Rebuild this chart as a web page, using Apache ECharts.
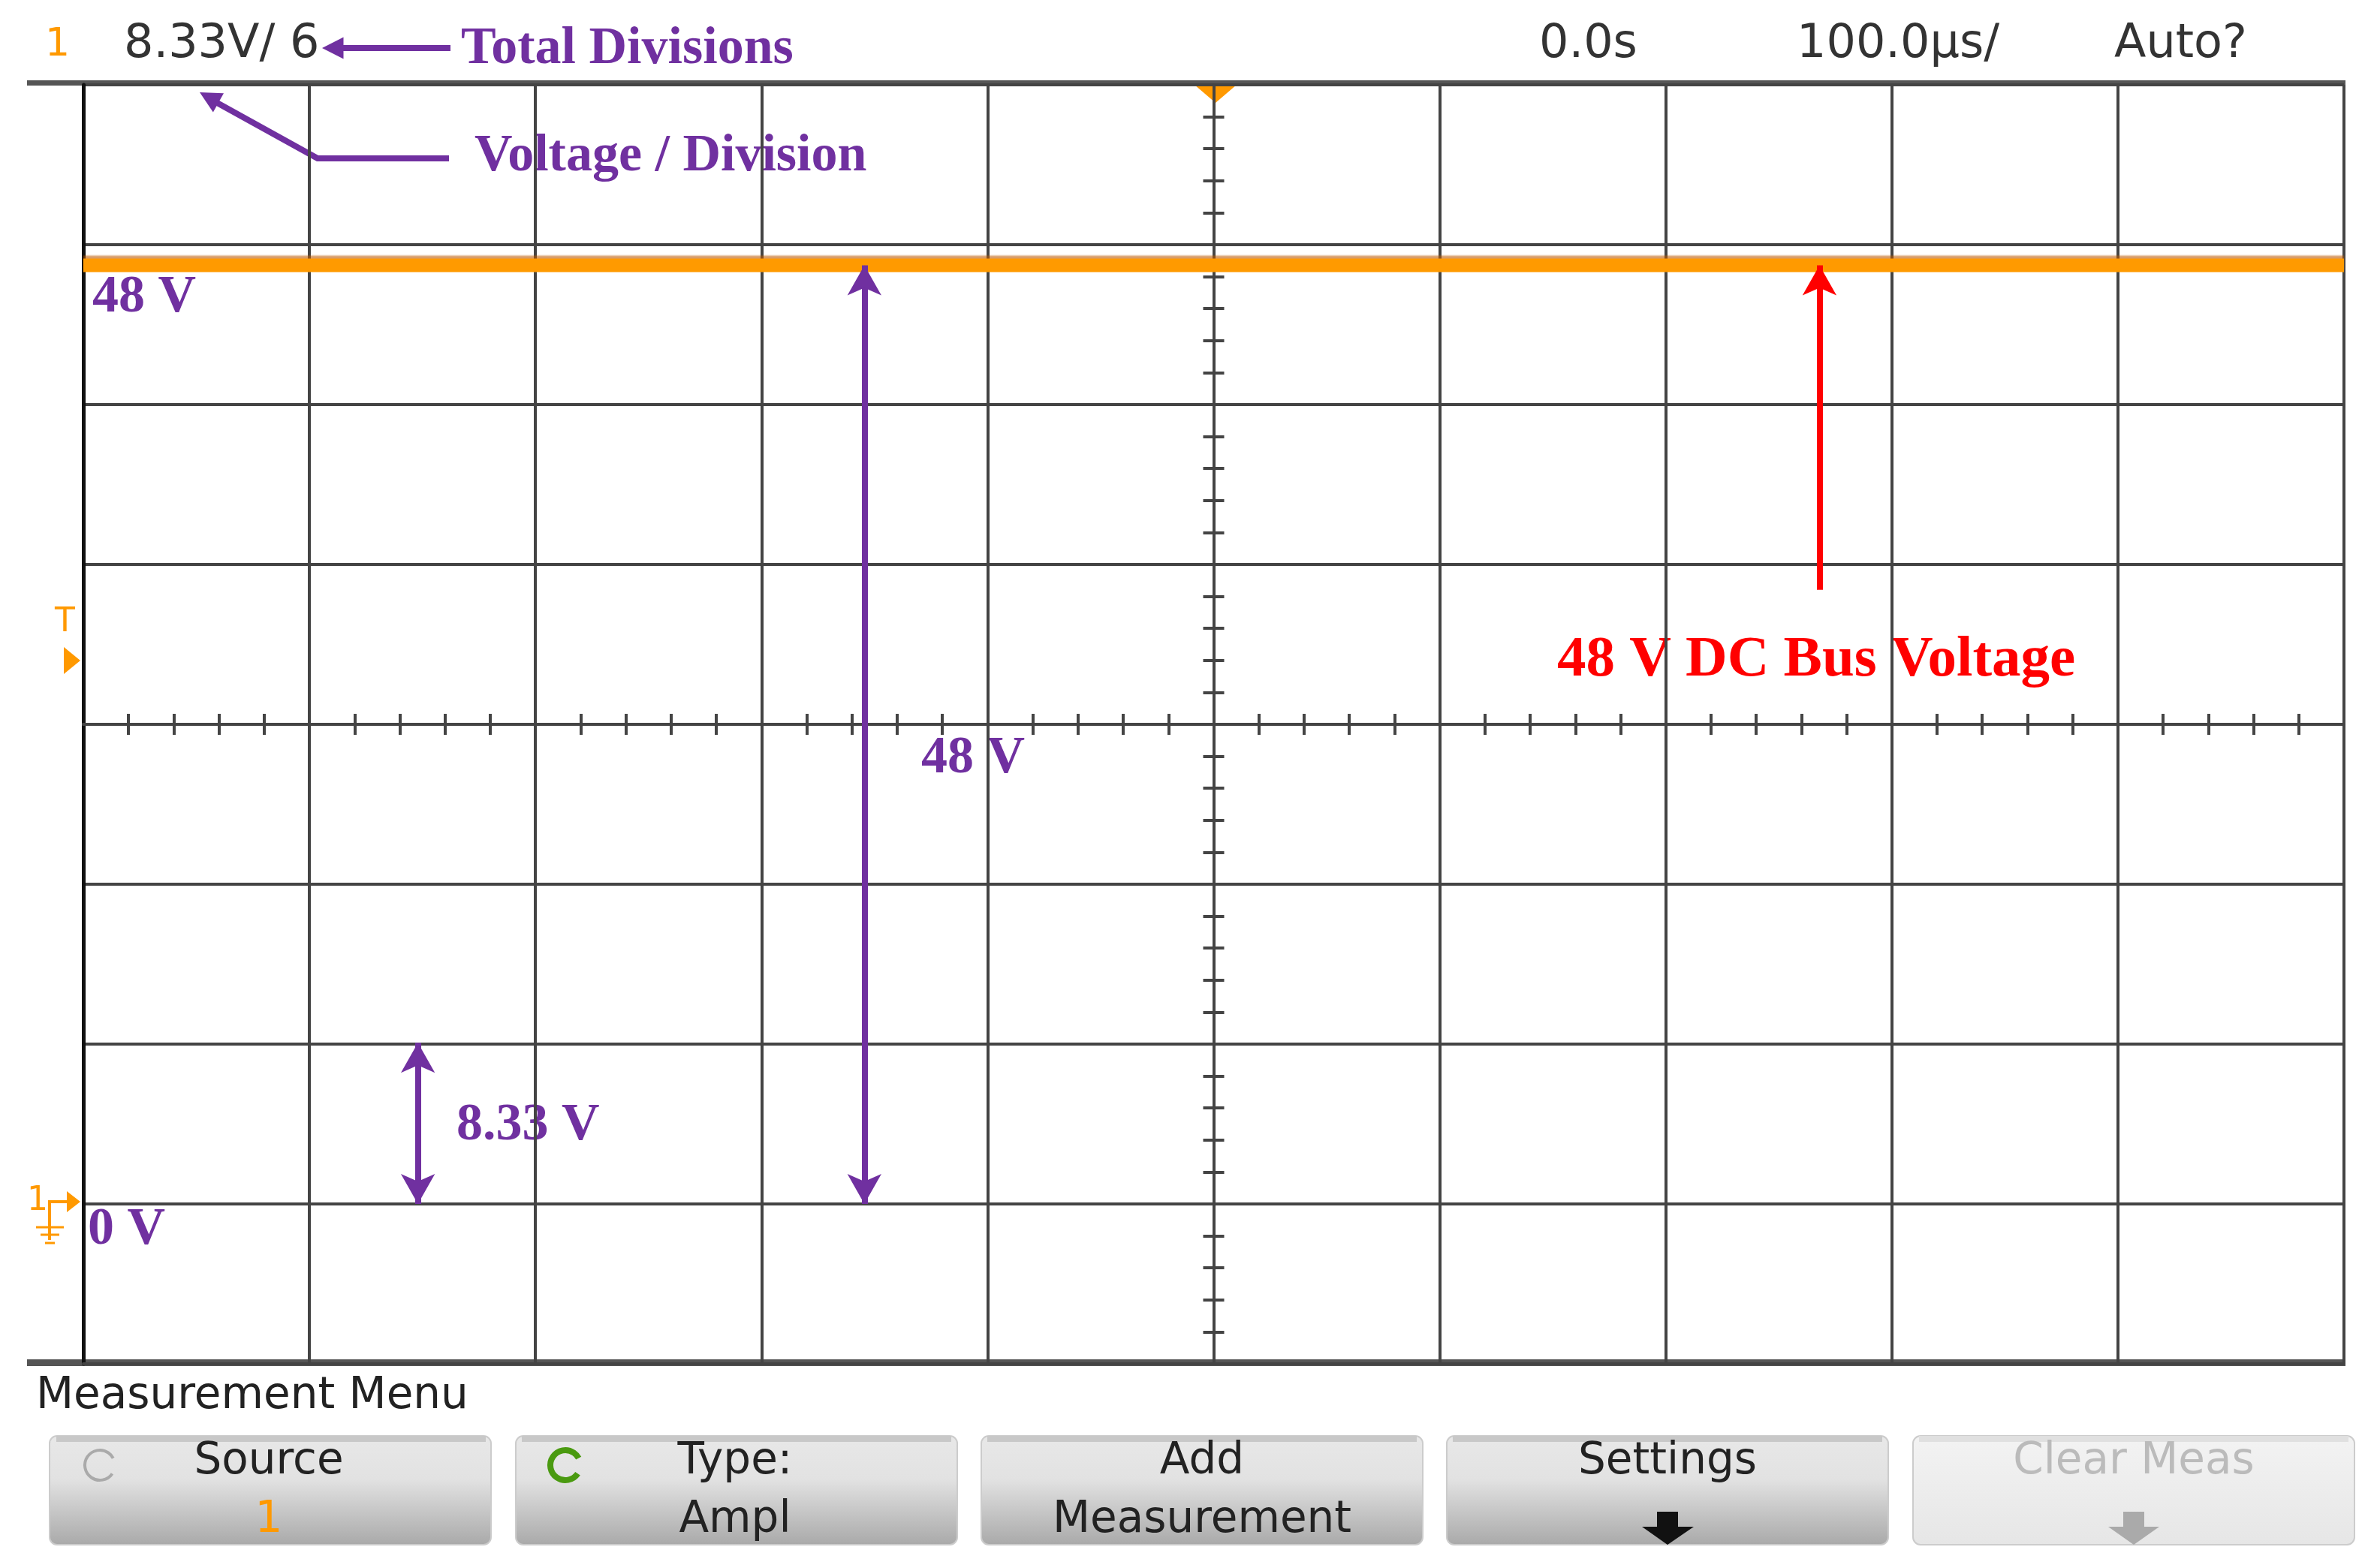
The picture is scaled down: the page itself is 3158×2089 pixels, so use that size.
<!DOCTYPE html>
<html>
<head>
<meta charset="utf-8">
<script src="https://cdn.jsdelivr.net/npm/echarts@6/dist/echarts.min.js"></script>
<style>html,body{margin:0;padding:0;background:#fff}#scope{width:3158px;height:2089px}</style>
</head>
<body>
<div id="scope"></div>
<script>
// data
var timeUs = [-500, -400, -300, -200, -100, 0, 100, 200, 300, 400, 500];
var busVolts = [48.9, 48.9, 48.9, 48.9, 48.9, 48.9, 48.9, 48.9, 48.9, 48.9, 48.9];
var voltsPerDiv = 8.33;
var headerTexts = ['8.33V/ 6', '0.0s', '100.0µs/', 'Auto?'];
var buttonTop = ['Source', 'Type:', 'Add', 'Settings', 'Clear Meas'];
var buttonBottom = ['1', 'Ampl', 'Measurement', '', ''];

var S = 3158 / 1568;
function p(v) { return Math.round(v * S); }
var purple = '#7030a0';
var serif = 'Liberation Serif';
var sans = '"DejaVu Sans", sans-serif';

var traceData = timeUs.map(function (t, i) { return [t, busVolts[i]]; });

function arrowHead(x, y, ang, size, color) {
    var a1 = ang + Math.PI * 0.85, a2 = ang - Math.PI * 0.85;
    return {
        type: 'polygon',
        shape: { points: [[x, y], [x + size * Math.cos(a1), y + size * Math.sin(a1)], [x + size * Math.cos(a2), y + size * Math.sin(a2)]] },
        style: { fill: color }
    };
}
function txt(x, y, s, size, color, font, weight, align) {
    return {
        type: 'text', x: x, y: y,
        style: { text: s, fontSize: size, fill: color, fontFamily: font, fontWeight: weight || 'normal', align: align || 'left', verticalAlign: 'middle' }
    };
}

var graphics = [
    { type: 'rect', shape: { x: p(18), y: p(53), width: p(1533), height: 7 }, style: { fill: '#555' } },
    { type: 'rect', shape: { x: p(18), y: p(899), width: p(1533), height: 9 }, style: { fill: '#555' } },
    // header
    txt(p(30), p(30), '1', p(26), '#f90', sans),
    txt(p(82), p(30), headerTexts[0], p(31), '#333', sans),
    txt(p(1018), p(30), headerTexts[1], p(31), '#333', sans),
    txt(p(1188), p(30), headerTexts[2], p(31), '#333', sans),
    txt(p(1398), p(30), headerTexts[3], p(31), '#333', sans),
    // trigger markers
    { type: 'polygon', shape: { points: [[p(790), p(56)], [p(818), p(56)], [p(804), p(68)]] }, style: { fill: '#f90' } },
    txt(p(36), p(412), 'T', p(22), '#f90', sans),
    { type: 'polygon', shape: { points: [[p(42), p(428)], [p(42), p(446)], [p(53), p(437)]] }, style: { fill: '#f90' } },
    // ground marker
    txt(p(18), p(795), '1', p(22), '#f90', sans),
    { type: 'polyline', shape: { points: [[p(33), p(820)], [p(33), p(795)], [p(45), p(795)]] }, style: { stroke: '#f90', lineWidth: 4, fill: null } },
    { type: 'polygon', shape: { points: [[p(44), p(788)], [p(44), p(802)], [p(53), p(795)]] }, style: { fill: '#f90' } },
    { type: 'line', shape: { x1: p(24), y1: p(812), x2: p(42), y2: p(812) }, style: { stroke: '#f90', lineWidth: 3 } },
    { type: 'line', shape: { x1: p(27), y1: p(817), x2: p(39), y2: p(817) }, style: { stroke: '#f90', lineWidth: 3 } },
    { type: 'line', shape: { x1: p(30), y1: p(822), x2: p(36), y2: p(822) }, style: { stroke: '#f90', lineWidth: 3 } },
    // annotation: total divisions
    { type: 'line', shape: { x1: p(298), y1: p(32), x2: p(225), y2: p(32) }, style: { stroke: purple, lineWidth: 8 } },
    arrowHead(p(213), p(32), Math.PI, p(16), purple),
    txt(p(305), p(33), 'Total Divisions', p(35), purple, serif, 'bold'),
    // annotation: voltage / division
    { type: 'polyline', shape: { points: [[p(297), p(105)], [p(210), p(105)], [p(140), p(66)]] }, style: { stroke: purple, lineWidth: 8, fill: null } },
    arrowHead(p(132), p(61), Math.atan2(-39, -70), p(16), purple),
    txt(p(314), p(104), 'Voltage / Division', p(35), purple, serif, 'bold'),
    // labels
    txt(p(61), p(197), '48 V', p(35), purple, serif, 'bold'),
    txt(p(609), p(502), '48 V', p(35), purple, serif, 'bold'),
    txt(p(302), p(745), '8.33 V', p(35), purple, serif, 'bold'),
    txt(p(58), p(814), '0 V', p(35), purple, serif, 'bold'),
    txt(p(1030), p(437), '48 V DC Bus Voltage', p(38), '#f00', serif, 'bold'),
    // menu
    txt(p(24), p(924), 'Measurement Menu', p(29), '#222', sans)
];

buttonTop.forEach(function (label, i) {
    var x0 = 33 + i * 308, w = 292;
    var dim = i === 4;
    graphics.push({
        type: 'rect', shape: { x: p(x0), y: p(950), width: p(w), height: p(72), r: 10 },
        style: {
            fill: new echarts.graphic.LinearGradient(0, 0, 0, 1, dim ?
                [{ offset: 0, color: '#f3f3f3' }, { offset: 1, color: '#e6e6e6' }] :
                [{ offset: 0, color: '#e8e8e8' }, { offset: 0.4, color: '#e2e2e2' }, { offset: 1, color: '#a9a9a9' }]),
            stroke: '#ccc', lineWidth: 2
        }
    });
    graphics.push({ type: 'rect', shape: { x: p(x0 + 4), y: p(950), width: p(w - 8), height: 8 }, style: { fill: dim ? '#e0e0e0' : '#c8c8c8' } });
    var cx = x0 + w / 2;
    if (i < 2) cx = x0 + 145;
    graphics.push(txt(p(cx), p(967), label, p(29), dim ? '#bbb' : '#222', sans, 'normal', 'center'));
    if (buttonBottom[i]) {
        graphics.push(txt(p(cx), p(1006), buttonBottom[i], p(29), i === 0 ? '#f90' : '#222', sans, 'normal', 'center'));
    }
    if (i >= 3) {
        var ac = dim ? '#aaa' : '#111';
        graphics.push({ type: 'rect', shape: { x: p(cx - 7), y: p(1000), width: p(14), height: p(12) }, style: { fill: ac } });
        graphics.push({ type: 'polygon', shape: { points: [[p(cx - 17), p(1010)], [p(cx + 17), p(1010)], [p(cx), p(1022)]] }, style: { fill: ac } });
    }
});
graphics.push({ type: 'arc', shape: { cx: p(66), cy: p(969), r: p(10), startAngle: 0.6, endAngle: 5.8 }, style: { stroke: '#aaa', lineWidth: 4, fill: null } });
graphics.push({ type: 'arc', shape: { cx: p(374), cy: p(969), r: p(10), startAngle: 0.6, endAngle: 5.8 }, style: { stroke: '#4a9a10', lineWidth: 8, fill: null } });

var gridLine = { show: true, lineStyle: { color: '#444', width: 4 } };
var tickAxisX = function () {
    return {
        type: 'value', min: -500, max: 500, interval: 100, gridIndex: 0,
        axisLine: { show: true, onZero: true, onZeroAxisIndex: 1, lineStyle: { color: '#444', width: 4 } },
        axisTick: { show: false },
        minorTick: { show: true, splitNumber: 5, length: 14, lineStyle: { color: '#444', width: 4 } },
        axisLabel: { show: false }, splitLine: { show: false }
    };
};
var tickAxisY = function () {
    return {
        type: 'value', min: -4, max: 4, interval: 1, gridIndex: 0,
        axisLine: { show: true, onZero: true, onZeroAxisIndex: 0, lineStyle: { color: '#444', width: 4 } },
        axisTick: { show: false },
        minorTick: { show: true, splitNumber: 5, length: 14, lineStyle: { color: '#444', width: 4 } },
        axisLabel: { show: false }, splitLine: { show: false }
    };
};
var xTick1 = tickAxisX(); var xTick2 = tickAxisX(); xTick2.minorTick.length = -14;
var yTick1 = tickAxisY(); var yTick2 = tickAxisY(); yTick2.minorTick.length = -14;

var option = {
    backgroundColor: '#fff',
    animation: false,
    grid: { left: p(55), top: p(56), width: p(1495), height: p(846) },
    xAxis: [
        {
            type: 'value', min: -500, max: 500, interval: 100,
            axisLine: { show: true, onZero: false, lineStyle: { color: '#444', width: 4 } },
            axisTick: { show: false }, axisLabel: { show: false },
            splitLine: gridLine
        },
        xTick1, xTick2
    ],
    yAxis: [
        {
            type: 'value', min: -voltsPerDiv, max: voltsPerDiv * 7, interval: voltsPerDiv,
            axisLine: { show: true, onZero: false, lineStyle: { color: '#111', width: 5 } },
            axisTick: { show: false }, axisLabel: { show: false },
            splitLine: gridLine
        },
        yTick1, yTick2
    ],
    series: [
        {
            type: 'line', data: traceData, symbol: 'none',
            lineStyle: { color: '#ff9a00', width: 18, shadowColor: 'rgba(190,90,0,0.6)', shadowOffsetY: -4, shadowBlur: 2 },
            markLine: {
                silent: true, symbol: ['arrow', 'arrow'], symbolSize: [34, 40],
                label: { show: false },
                lineStyle: { color: purple, width: 8, type: 'solid' },
                data: [
                    [{ coord: [-154.5, 48.9] }, { coord: [-154.5, 0] }],
                    [{ coord: [-352, 8.4] }, { coord: [-352, 0] }],
                    [{ coord: [268, 32], symbol: 'none', lineStyle: { color: '#f00', width: 8 } },
                     { coord: [268, 48.9], symbol: 'arrow', lineStyle: { color: '#f00', width: 8 } }]
                ]
            }
        }
    ],
    graphic: graphics
};
var chart = echarts.init(document.getElementById('scope'));
chart.setOption(option);
</script>
</body>
</html>
